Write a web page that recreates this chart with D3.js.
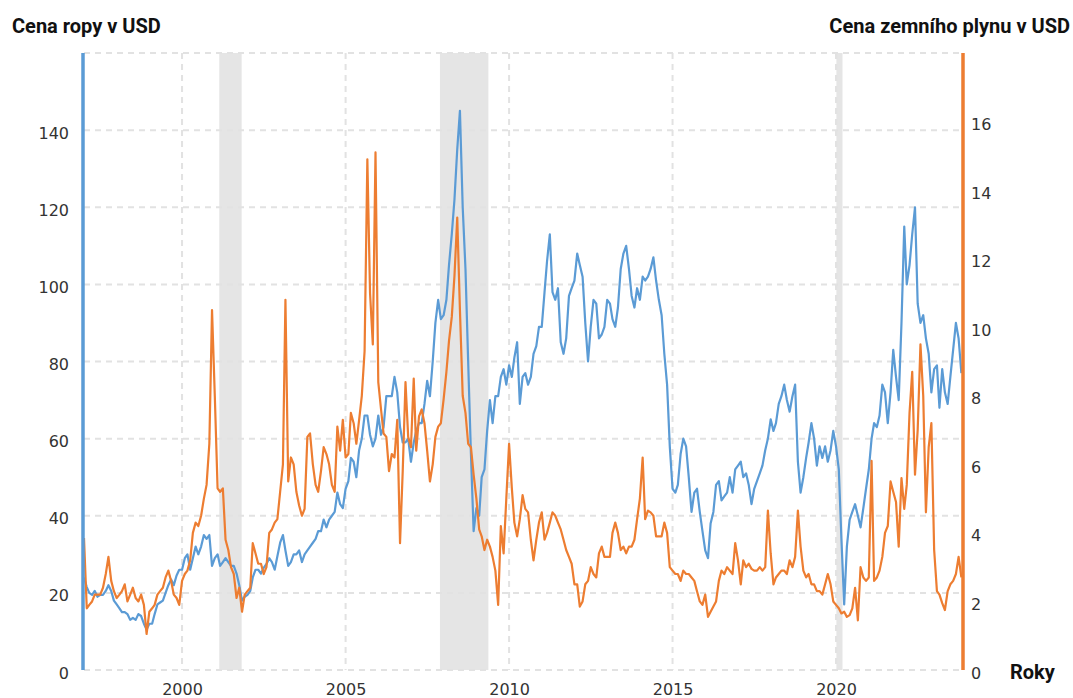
<!DOCTYPE html>
<html lang="cs">
<head>
<meta charset="utf-8">
<script src="https://d3js.org/d3.v7.min.js"></script>
<style>
  body { margin: 0; background: #fff; }
  .tick text { font-family: "DejaVu Sans", Verdana, sans-serif; font-size: 16px; fill: #333; }
  .title { font-family: Roboto, "Liberation Sans", sans-serif; font-weight: 700; font-size: 20px; fill: #111; }
</style>
</head>
<body>
<div id="chart"></div>
<script>

// monthly values from Jan 1997, one row per year
const oilPrice = [
  24, 21.5, 20, 19.5, 20.5, 19, 19.5, 19.5, 20.5, 22, 20.5, 18,      // 1997
  17, 16, 15, 15, 14.5, 13, 13.5, 13, 14.5, 14, 12, 10.5,            // 1998
  12, 12, 14.5, 17, 17.5, 18, 20, 22, 23.5, 22, 24.5, 26,            // 1999
  26, 29, 30, 26, 29, 32, 30, 32, 35, 34, 35, 27,                    // 2000
  29, 30, 27, 28, 29, 28, 27, 27, 25, 22, 18, 19,                    // 2001
  19.5, 20.5, 24, 26, 26, 25, 26.5, 27.5, 29, 28, 26, 29.5,          // 2002
  33, 35, 31, 27, 28, 30, 30, 31, 28, 30, 31, 32,                    // 2003
  33, 34, 36, 36, 39, 37, 39, 40, 41, 46, 43, 42,                    // 2004
  47, 49, 55, 54, 50, 57, 60, 66, 66, 61, 58, 60,                    // 2005
  66, 61, 63, 71, 71, 71, 76, 72, 63, 59, 59, 60,                    // 2006
  54, 59, 62, 64, 64, 69, 75, 71, 80, 90, 96, 91,                    // 2007
  92, 96, 105, 113, 122, 135, 145, 120, 104, 80, 56, 36,             // 2008
  42, 40, 50, 52, 62, 70, 64, 71, 71, 76, 78, 74,                    // 2009
  79, 76, 81, 85, 69, 76, 77, 74, 76, 82, 84, 89,                    // 2010
  89, 98, 106, 113, 98, 96, 99, 85, 82, 86, 97, 99,                  // 2011
  101, 108, 105, 102, 90, 80, 89, 96, 95, 86, 87, 89,                // 2012
  96, 95, 91, 89, 94, 104, 108, 110, 104, 97, 94, 99,                // 2013
  96, 102, 101, 102, 104, 107, 101, 96, 92, 82, 74, 58,              // 2014
  47, 46, 48, 56, 60, 58, 50, 41, 46, 47, 41, 36,                    // 2015
  31, 29, 38, 41, 48, 49, 44, 45, 46, 50, 46, 52,                    // 2016
  53, 54, 50, 51, 48, 43, 47, 49, 51, 53, 57, 60,                    // 2017
  65, 62, 64, 69, 71, 74, 70, 67, 71, 74, 54, 46,                    // 2018
  50, 55, 59, 64, 60, 53, 58, 55, 58, 54, 57, 62,                    // 2019
  58, 52, 34, 17, 32, 39, 41, 43, 40, 37, 42, 47,                    // 2020
  52, 60, 64, 63, 66, 74, 72, 64, 72, 83, 76, 70,                    // 2021
  90, 115, 100, 105, 113, 120, 95, 90, 92, 86, 82, 72,               // 2022
  78, 79, 68, 78, 72, 69, 76, 83, 90, 86, 77                         // 2023
];

const gasPrice = [
  3.85, 1.8, 1.9, 2.0, 2.2, 2.2, 2.2, 2.4, 2.8, 3.3, 2.6, 2.3,       // 1997
  2.1, 2.2, 2.3, 2.5, 2.0, 2.2, 2.4, 2.1, 2.0, 2.2, 1.9, 1.05,       // 1998
  1.7, 1.8, 1.9, 2.2, 2.3, 2.4, 2.7, 2.9, 2.6, 2.2, 2.1, 1.9,        // 1999
  2.6, 2.8, 2.9, 3.2, 4.0, 4.3, 4.2, 4.5, 5.0, 5.4, 6.6, 10.5,       // 2000
  8.0, 5.3, 5.2, 5.3, 3.8, 3.5, 3.0, 2.8, 2.1, 2.4, 1.7, 2.2,        // 2001
  2.3, 2.4, 3.7, 3.4, 3.1, 3.1, 2.8, 3.0, 4.0, 4.1, 4.3, 4.4,        // 2002
  5.2, 6.0, 10.8, 5.5, 6.2, 6.0, 5.2, 4.8, 4.5, 4.7, 6.8, 6.9,       // 2003
  6.0, 5.4, 5.2, 5.8, 6.5, 6.3, 6.0, 5.4, 5.2, 7.1, 6.4, 7.3,        // 2004
  6.2, 6.3, 7.5, 7.2, 6.6, 7.3, 8.0, 9.3, 14.9, 11.0, 9.5, 15.1,     // 2005
  8.4, 7.6, 6.9, 6.8, 5.8, 6.3, 6.2, 7.3, 3.7, 5.8, 8.4, 6.8,        // 2006
  6.5, 8.5, 6.4, 7.4, 7.6, 7.2, 6.4, 5.5, 6.0, 6.8, 7.1, 7.2,        // 2007
  7.9, 8.7, 9.6, 10.3, 11.5, 13.2, 10.5, 8.0, 7.5, 6.6, 6.5, 5.7,    // 2008
  5.0, 4.1, 3.9, 3.5, 3.8, 3.6, 3.3, 2.9, 1.9, 4.2, 3.4, 5.0,        // 2009
  6.6, 5.3, 4.3, 3.9, 4.4, 5.1, 4.7, 4.6, 3.8, 3.2, 3.8, 4.3,        // 2010
  4.6, 3.8, 4.0, 4.3, 4.6, 4.5, 4.3, 4.1, 3.8, 3.5, 3.3, 3.1,        // 2011
  2.5, 2.5, 1.85, 2.0, 2.5, 2.6, 3.0, 2.8, 2.7, 3.4, 3.6, 3.3,       // 2012
  3.3, 3.3, 4.0, 4.3, 4.0, 3.5, 3.6, 3.4, 3.6, 3.6, 3.8, 4.4,        // 2013
  5.0, 6.2, 4.4, 4.65, 4.6, 4.5, 3.9, 3.9, 3.9, 4.3, 4.0, 3.0,       // 2014
  2.9, 2.8, 2.8, 2.6, 2.9, 2.8, 2.8, 2.7, 2.6, 2.3, 2.0, 1.9,        // 2015
  2.2, 1.55, 1.7, 1.85, 2.0, 2.6, 2.9, 2.8, 3.0, 2.9, 2.8, 3.7,      // 2016
  3.2, 2.5, 3.2, 3.0, 3.1, 2.95, 2.9, 2.9, 3.0, 2.9, 3.0, 4.65,      // 2017
  3.4, 2.5, 2.7, 2.8, 2.9, 2.9, 2.8, 3.2, 3.0, 3.3, 4.65, 3.6,       // 2018
  2.9, 2.7, 2.8, 2.5, 2.5, 2.3, 2.3, 2.2, 2.5, 2.8, 2.5, 2.0,        // 2019
  1.9, 1.8, 1.65, 1.7, 1.55, 1.6, 1.8, 2.4, 1.45, 3.0, 2.7, 2.6,     // 2020
  2.7, 6.1, 2.6, 2.7, 2.9, 3.3, 4.0, 4.2, 5.5, 5.2, 4.9, 3.6,        // 2021
  5.6, 4.7, 5.4, 7.5, 8.7, 5.7, 7.0, 9.5, 8.0, 4.6, 6.5, 7.2,        // 2022
  3.5, 2.3, 2.2, 1.95, 1.75, 2.3, 2.5, 2.6, 2.8, 3.3, 2.7            // 2023
];

const startYear = 1997;
const yearTicks = [2000, 2005, 2010, 2015, 2020];
const oilTicks = [0, 20, 40, 60, 80, 100, 120, 140];
const gasTicks = [0, 2, 4, 6, 8, 10, 12, 14, 16];
const recessions = [
  ["2001-02-20", "2001-10-28"],
  ["2007-11-21", "2009-05-15"],
  ["2020-01-05", "2020-03-13"]
];

const blue = "#5b9bd5", orange = "#ed7d31";

const W = 1073, H = 698;
const margin = {top: 53, right: 111, bottom: 28, left: 84};
const width = W - margin.left - margin.right,
      height = H - margin.top - margin.bottom;

const svg = d3.select("#chart").append("svg")
    .attr("width", W)
    .attr("height", H);

const g = svg.append("g")
    .attr("transform", `translate(${margin.left},${margin.top})`);

const dates = oilPrice.map((v, i) => new Date(startYear, i, 1));
const parse = d3.timeParse("%Y-%m-%d");

const x = d3.scaleTime()
    .domain([new Date(startYear, 0, 1), new Date(2023, 10, 8)])
    .range([0, width]);
const yOil = d3.scaleLinear().domain([0, 160]).range([height, 0]);
const yGas = d3.scaleLinear().domain([0, 18]).range([height, 0]);

// recession bands
g.selectAll("rect.rec")
  .data(recessions)
  .enter().append("rect")
    .attr("class", "rec")
    .attr("x", d => x(parse(d[0])))
    .attr("width", d => x(parse(d[1])) - x(parse(d[0])))
    .attr("y", 0)
    .attr("height", height)
    .attr("fill", "#e5e5e5");

// grid
g.selectAll("line.hgrid")
  .data(oilTicks.concat([160]))
  .enter().append("line")
    .attr("x1", 0).attr("x2", width)
    .attr("y1", d => yOil(d)).attr("y2", d => yOil(d))
    .attr("stroke", "#e2e2e2")
    .attr("stroke-width", 2)
    .attr("stroke-dasharray", "6,5");

g.selectAll("line.vgrid")
  .data(yearTicks)
  .enter().append("line")
    .attr("x1", d => x(new Date(d, 0, 1))).attr("x2", d => x(new Date(d, 0, 1)))
    .attr("y1", 0).attr("y2", height)
    .attr("stroke", "#e2e2e2")
    .attr("stroke-width", 2)
    .attr("stroke-dasharray", "6,5");

// series
g.append("path")
  .datum(oilPrice)
  .attr("fill", "none")
  .attr("stroke", blue)
  .attr("stroke-width", 2.2)
  .attr("stroke-linejoin", "round")
  .attr("d", d3.line().x((d, i) => x(dates[i])).y(d => yOil(d)));

g.append("path")
  .datum(gasPrice)
  .attr("fill", "none")
  .attr("stroke", orange)
  .attr("stroke-width", 2.2)
  .attr("stroke-linejoin", "round")
  .attr("d", d3.line().x((d, i) => x(dates[i])).y(d => yGas(d)));

// axes
const left = g.append("g")
  .call(d3.axisLeft(yOil).tickValues(oilTicks).tickSize(0).tickPadding(15));
const right = g.append("g")
  .attr("transform", `translate(${width},0)`)
  .call(d3.axisRight(yGas).tickValues(gasTicks).tickSize(0).tickPadding(9));
const bottom = g.append("g")
  .attr("transform", `translate(0,${height})`)
  .call(d3.axisBottom(x)
    .tickValues(yearTicks.map(d => new Date(d, 0, 1)))
    .tickFormat(d3.timeFormat("%Y"))
    .tickSize(0).tickPadding(14));

[left, right].forEach(a => a.selectAll(".tick text").attr("dy", "0.5em"));
[left, right, bottom].forEach(a => a.select(".domain").remove());

g.append("line")
  .attr("x1", -1).attr("x2", -1)
  .attr("y1", 0).attr("y2", height)
  .attr("stroke", blue).attr("stroke-width", 3.5);

g.append("line")
  .attr("x1", width + 1).attr("x2", width + 1)
  .attr("y1", 0).attr("y2", height)
  .attr("stroke", orange).attr("stroke-width", 3.5);

// titles
svg.append("text").attr("class", "title")
  .attr("x", 12).attr("y", 33)
  .text("Cena ropy v USD");

svg.append("text").attr("class", "title")
  .attr("x", 1070).attr("y", 33)
  .attr("text-anchor", "end")
  .text("Cena zemního plynu v USD");

svg.append("text").attr("class", "title")
  .attr("x", 1010).attr("y", 679)
  .text("Roky");

</script>
</body>
</html>
